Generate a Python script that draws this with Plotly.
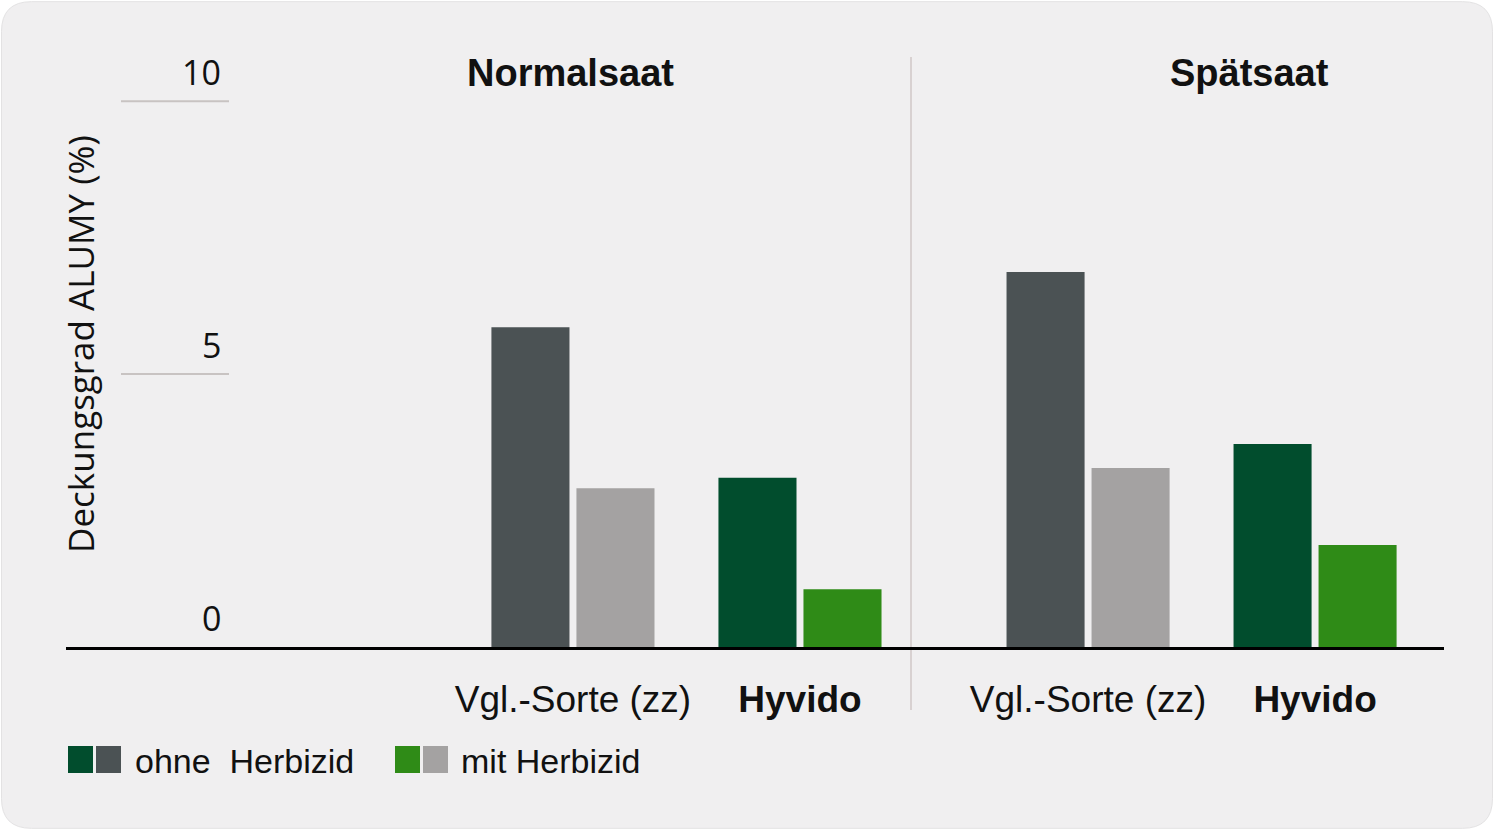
import plotly.graph_objects as go

W, H = 1494, 830

gruppen = ["Normalsaat", "Spätsaat"]
sorten = ["Vgl.-Sorte (zz)", "Hyvido"]
sorten_text = ["Vgl.-Sorte (zz)", "<b>Hyvido</b>"]
ohne_normal = [5.86, 3.10]
mit_normal = [2.91, 1.06]
ohne_spaet = [6.87, 3.72]
mit_spaet = [3.28, 1.87]
y_ticks = [0, 5, 10]

farbe_ohne = ["#4b5254", "#014d2d"]
farbe_mit = ["#a4a2a2", "#2f8b17"]

FONT = "Liberation Sans, Arial, sans-serif"


def px_x(p):
    return p / W


def px_y(p):
    return 1 - p / H


fig = go.Figure()

for xa, ya, ohne, mit in [("x", "y", ohne_normal, mit_normal),
                          ("x2", "y2", ohne_spaet, mit_spaet)]:
    fig.add_trace(go.Bar(x=sorten, y=ohne, marker=dict(color=farbe_ohne, line=dict(width=0)),
                         xaxis=xa, yaxis=ya, showlegend=False, name="ohne Herbizid"))
    fig.add_trace(go.Bar(x=sorten, y=mit, marker=dict(color=farbe_mit, line=dict(width=0)),
                         xaxis=xa, yaxis=ya, showlegend=False, name="mit Herbizid"))

y_dom = [px_y(647), px_y(57)]
y_top = 10.81

xcommon = dict(type="category", tickvals=sorten, ticktext=sorten_text,
               showline=True, linecolor="black", linewidth=3, showgrid=False, zeroline=False,
               ticks="outside", ticklen=18, tickcolor="rgba(0,0,0,0)",
               tickfont=dict(family=FONT, size=37, color="#111111"), fixedrange=True)
ycommon = dict(range=[0, y_top], domain=y_dom, showticklabels=False, showgrid=False,
               zeroline=False, showline=False, fixedrange=True)

fig.update_layout(
    width=W, height=H,
    margin=dict(l=0, r=0, t=0, b=0),
    paper_bgcolor="white",
    plot_bgcolor="rgba(0,0,0,0)",
    barmode="group", bargap=0.251, bargroupgap=0.082,
    xaxis=dict(domain=[px_x(66), px_x(911)], range=[-2.233, 1.489], anchor="y", **xcommon),
    xaxis2=dict(domain=[px_x(911), px_x(1444)], range=[-0.78, 1.568], anchor="y2", **xcommon),
    yaxis=dict(anchor="x", **ycommon),
    yaxis2=dict(anchor="x2", **ycommon),
)

# card background with rounded corners
rx, ry = 30 / W, 30 / H
x0, x1, y0, y1 = 0.001, 0.999, 0.002, 0.998
card = (f"M {x0+rx},{y0} L {x1-rx},{y0} Q {x1},{y0} {x1},{y0+ry} "
        f"L {x1},{y1-ry} Q {x1},{y1} {x1-rx},{y1} L {x0+rx},{y1} "
        f"Q {x0},{y1} {x0},{y1-ry} L {x0},{y0+ry} Q {x0},{y0} {x0+rx},{y0} Z")
fig.add_shape(type="path", path=card, xref="paper", yref="paper",
              fillcolor="#f0eff0", line=dict(color="#e3e2e3", width=1), layer="below")

# divider between the two sowing dates
fig.add_shape(type="line", xref="paper", yref="paper", layer="below",
              x0=px_x(911), x1=px_x(911), y0=px_y(710), y1=px_y(57),
              line=dict(color="#d8d1d1", width=2))

# short gridlines and y tick labels
for t in y_ticks:
    if t > 0:
        fig.add_shape(type="line", xref="paper", yref="y", x0=px_x(121), x1=px_x(229),
                      y0=t, y1=t, line=dict(color="#c8c3c2", width=2))
    fig.add_annotation(x=px_x(223), xref="paper", y=t, yref="y", text=str(t),
                       xanchor="right", yanchor="middle", yshift=29, showarrow=False,
                       font=dict(family="Open Sans, sans-serif", size=34, color="#111111"))

fig.add_annotation(x=px_x(80), xref="paper", y=px_y(344), yref="paper",
                   text="Deckungsgrad ALUMY (%)", textangle=-90, showarrow=False,
                   xanchor="center", yanchor="middle",
                   font=dict(family="Open Sans, sans-serif", size=35, color="#111111"))

# group titles
for name, xc in zip(gruppen, [570, 1249]):
    fig.add_annotation(x=px_x(xc), xref="paper", y=px_y(73), yref="paper",
                       text=f"<b>{name}</b>", showarrow=False, xanchor="center", yanchor="middle",
                       font=dict(family=FONT, size=38, color="#111111"))

# legend made of paired squares
legend_items = [
    ("ohne\u00a0\u00a0Herbizid", [farbe_ohne[1], farbe_ohne[0]], 68, 133),
    ("mit Herbizid", [farbe_mit[1], farbe_mit[0]], 395, 459),
]
for text, cols, xs, xt in legend_items:
    for i, c in enumerate(cols):
        fig.add_shape(type="rect", xref="paper", yref="paper",
                      x0=px_x(xs + i * 28), x1=px_x(xs + i * 28 + 25),
                      y0=px_y(773), y1=px_y(746), fillcolor=c, line=dict(width=0))
    fig.add_annotation(x=px_x(xt), xref="paper", y=px_y(761), yref="paper", text=text,
                       showarrow=False, xanchor="left", yanchor="middle",
                       font=dict(family=FONT, size=34, color="#111111"))

fig.write_html("out.html", config={"displayModeBar": False},
               post_script="document.body.style.margin='0';")
